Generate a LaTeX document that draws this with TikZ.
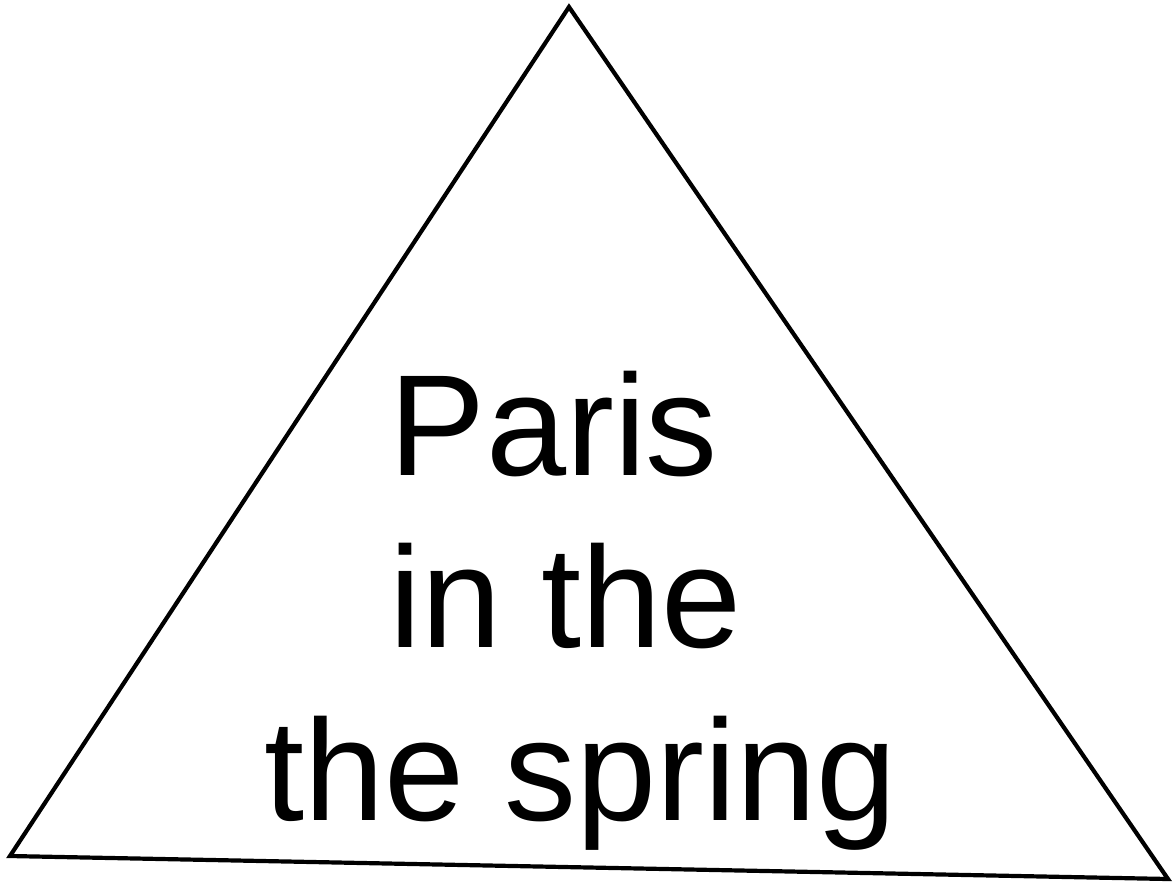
\documentclass[tikz,border=0pt]{standalone}
\usepackage{fontspec}
\setmainfont{Liberation Sans}
\begin{document}
\begin{tikzpicture}[x=1pt,y=-1pt,
  edge/.style={draw=black,line width=4.2pt,line join=miter},
  txt/.style={anchor=base,inner sep=0pt,font=\fontsize{144}{172}\selectfont}]
\useasboundingbox[fill=white] (0,0) rectangle (1173,887);
\coordinate (top) at (569,7);
\coordinate (bl) at (10,856);
\coordinate (br) at (1168,879);
\draw[edge] (top) -- (br) -- (bl) -- cycle;
\node[txt] (l1) at (554,475) {Paris};
\node[txt] (l2) at (566,647) {in the};
\node[txt] (l3) at (581,820) {the spring};
\end{tikzpicture}
\end{document}
